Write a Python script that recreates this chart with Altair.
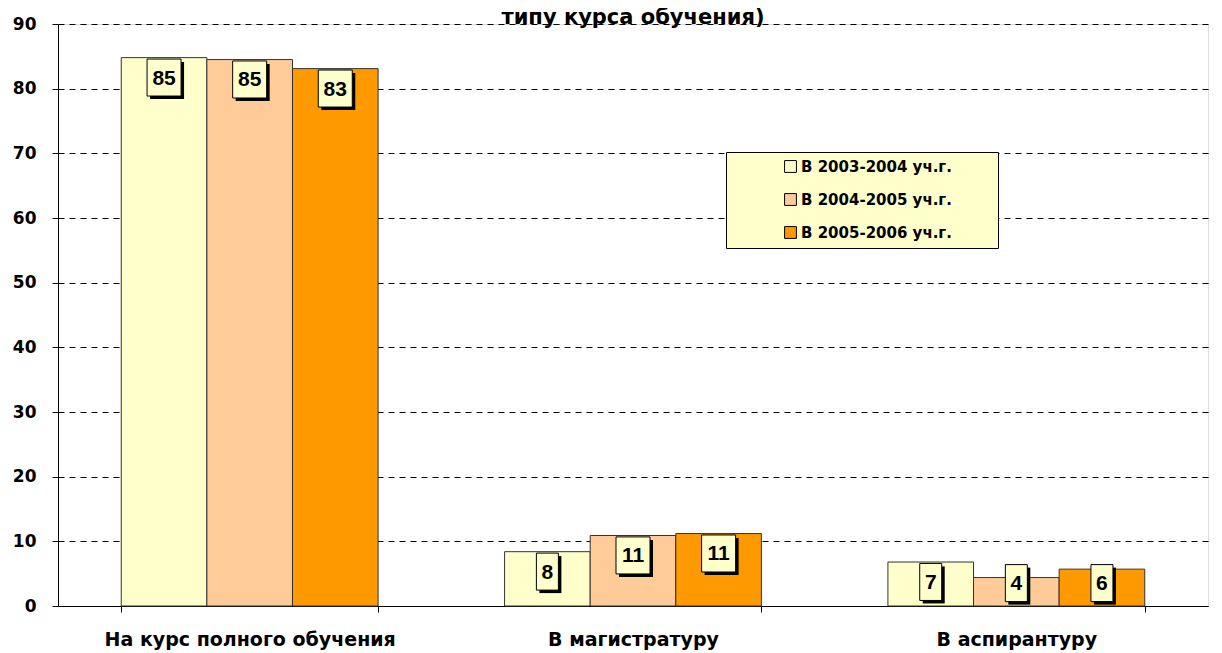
import altair as alt
import pandas as pd

categories = ["На курс полного обучения", "В магистратуру", "В аспирантуру"]
series = ["В 2003-2004 уч.г.", "В 2004-2005 уч.г.", "В 2005-2006 уч.г."]
values_2003 = [84.8, 8.4, 6.8]
values_2004 = [84.5, 10.9, 4.4]
values_2005 = [83.1, 11.2, 5.7]
colors = ["#FFFFCC", "#FFCC99", "#FF9900"]
y_ticks = [0, 10, 20, 30, 40, 50, 60, 70, 80, 90]
title_text = "типу курса обучения)"

rows = []
for s, vals in zip(series, [values_2003, values_2004, values_2005]):
    for c, v in zip(categories, vals):
        rows.append({"category": c, "series": s, "value": v})
df = pd.DataFrame(rows)

FONT = "Liberation Sans"
WIDE = "DejaVu Sans"

box_paths = [
    "M-0.55,-0.925L0.55,-0.925L0.55,0.925L-0.55,0.925Z",
    "M-0.85,-0.925L0.85,-0.925L0.85,0.925L-0.85,0.925Z",
]
shadow_paths = [
    "M-0.4,-0.775L0.7,-0.775L0.7,1.075L-0.4,1.075Z",
    "M-0.7,-0.775L1.0,-0.775L1.0,1.075L-0.7,1.075Z",
]

x_enc = alt.X(
    "category:N",
    sort=categories,
    scale=alt.Scale(paddingInner=0.33, paddingOuter=0.165),
    axis=alt.Axis(
        title=None,
        labelAngle=0,
        labelFont=WIDE,
        labelFontSize=19,
        labelFontWeight="bold",
        labelColor="black",
        labelPadding=18,
        labelLimit=0,
        labelBaseline="top",
        domainColor="black",
        tickColor="black",
        tickSize=6,
        tickBand="extent",
        grid=False,
    ),
)
xoff = alt.XOffset("series:N", sort=series, scale=alt.Scale(paddingInner=0, paddingOuter=0))
y_scale = alt.Scale(domain=[0, 90], nice=False)

bars = alt.Chart(df).mark_bar(stroke="#333333", strokeWidth=1).encode(
    x=x_enc,
    xOffset=xoff,
    y=alt.Y(
        "value:Q",
        scale=y_scale,
        axis=alt.Axis(
            title=None,
            values=y_ticks,
            labelFont=WIDE,
            labelFontSize=17,
            labelFontWeight="bold",
            labelColor="black",
            labelPadding=16,
            domainColor="black",
            tickColor="black",
            tickSize=6,
            grid=True,
            gridColor="black",
            gridDash=[6, 5],
            gridWidth=1,
        ),
    ),
    color=alt.Color(
        "series:N",
        sort=series,
        scale=alt.Scale(domain=series, range=colors),
        legend=alt.Legend(
            title="\u00a0",
            titleOrient="right",
            titlePadding=39,
            titleFontSize=15,
            orient="none",
            legendX=668,
            legendY=128,
            fillColor="#FFFFCC",
            strokeColor="black",
            padding=7,
            rowPadding=16,
            symbolType="square",
            symbolSize=140,
            symbolStrokeColor="black",
            symbolStrokeWidth=1,
            symbolOpacity=1,
            symbolOffset=50,
            labelFont=WIDE,
            labelFontSize=15,
            labelFontWeight="bold",
            labelColor="black",
            labelOffset=3,
            labelLimit=0,
        ),
    ),
)

lab_base = alt.Chart(df).transform_calculate(
    label="format(round(datum.value), 'd')",
    ly="max(datum.value - 3.08, 3.54)",
).transform_calculate(
    digits="length(datum.label) > 1 ? 'two' : 'one'"
)

enc_common = dict(
    x=alt.X("category:N", sort=categories),
    xOffset=xoff,
    y=alt.Y("ly:Q", scale=y_scale),
)

shadow = lab_base.mark_point(filled=True, fill="black", opacity=1, size=1600, strokeWidth=0).encode(
    **enc_common,
    shape=alt.Shape("digits:N", scale=alt.Scale(domain=["one", "two"], range=shadow_paths), legend=None),
)
box = lab_base.mark_point(filled=True, fill="#FFFFCC", stroke="black", strokeWidth=1, opacity=1, size=1600).encode(
    **enc_common,
    shape=alt.Shape("digits:N", scale=alt.Scale(domain=["one", "two"], range=box_paths), legend=None),
)
text = lab_base.mark_text(
    font=FONT, fontSize=21, fontWeight="bold", color="black", baseline="middle", align="center", dy=1
).encode(
    **enc_common,
    text="label:N",
)

chart = alt.layer(bars, shadow, box, text).resolve_scale(
    shape="independent"
).properties(
    width=1150,
    height=582,
    title=alt.TitleParams(
        title_text,
        font=WIDE,
        fontSize=21,
        fontWeight="bold",
        color="black",
        anchor="middle",
        baseline="alphabetic",
        offset=-30,
    ),
    autosize=alt.AutoSizeParams(type="none"),
    padding={"left": 50, "top": 16, "right": 4, "bottom": 48},
).configure_view(stroke=None).configure(background="white")

chart.save("out.html", embed_options={"renderer": "svg", "actions": False})
